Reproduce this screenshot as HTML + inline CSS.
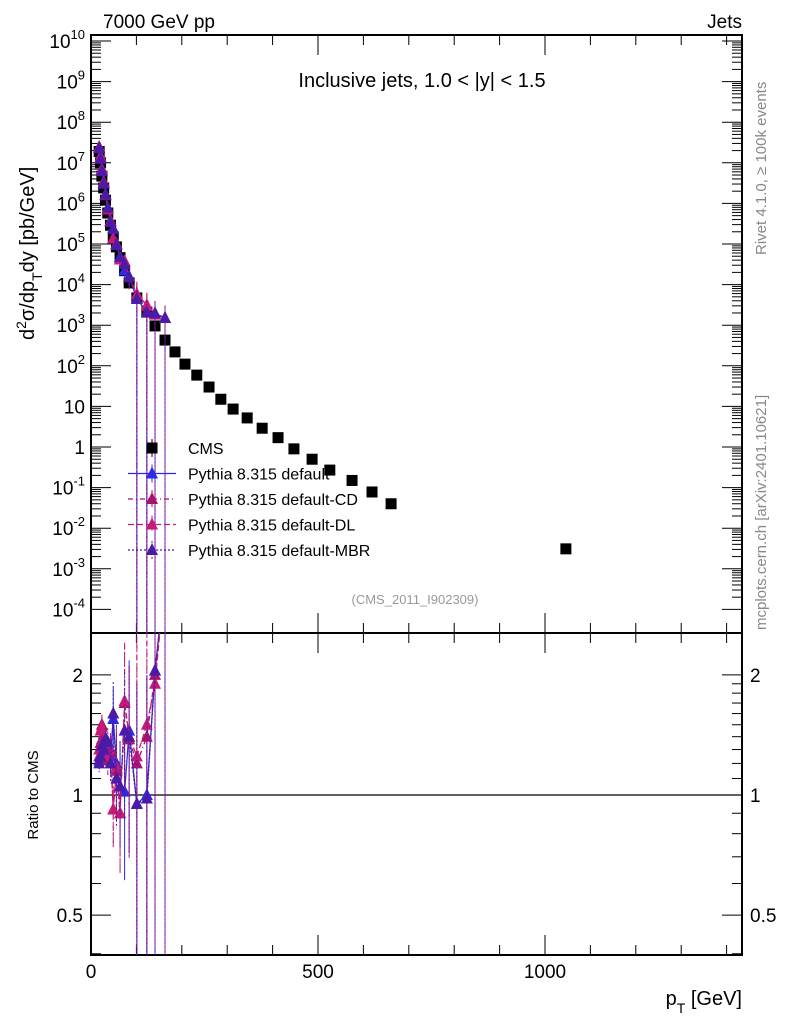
<!DOCTYPE html>
<html><head><meta charset="utf-8">
<style>
body{margin:0;background:#fff;}
svg text{font-family:"Liberation Sans",sans-serif;}
</style></head>
<body>
<svg id="c" width="786" height="1024" xmlns="http://www.w3.org/2000/svg">
<rect width="786" height="1024" fill="#fff"/>
<text x="103" y="28" font-size="19">7000 GeV pp</text>
<text x="742" y="28" font-size="19" text-anchor="end">Jets</text>
<text x="422" y="87" font-size="20" text-anchor="middle">Inclusive jets, 1.0 &lt; |y| &lt; 1.5</text>
<text x="415" y="604" font-size="13" fill="#999" text-anchor="middle">(CMS_2011_I902309)</text>
<text transform="translate(766,255) rotate(-90)" font-size="15" fill="#888">Rivet 4.1.0, ≥ 100k events</text>
<text transform="translate(766,630) rotate(-90)" font-size="15" fill="#888">mcplots.cern.ch [arXiv:2401.10621]</text>
<text transform="translate(34,340) rotate(-90)" font-size="20">d<tspan baseline-shift="super" font-size="14">2</tspan>σ/dp<tspan baseline-shift="sub" font-size="14">T</tspan>dy [pb/GeV]</text>
<text transform="translate(38,795) rotate(-90)" font-size="15" text-anchor="middle">Ratio to CMS</text>
<text x="742" y="1005" font-size="20" text-anchor="end">p<tspan baseline-shift="sub" font-size="14">T</tspan> [GeV]</text>
<g id="g"></g>
</svg>
<script>
const cmsPt=[18,21,24,28,32,37,43,49,56,64,74,84,101,123,141,163,185,207,233,260,286,313,344,377,412,447,487,526,575,619,661,1046];
const cmsVal=[1.9e7,1.0e7,4.7e6,2.4e6,1.2e6,5.8e5,2.9e5,1.5e5,8.5e4,4.6e4,2.2e4,1.1e4,4.7e3,2.1e3,9.6e2,4.3e2,2.2e2,1.1e2,59,30,15,8.6,5.2,2.9,1.7,0.9,0.5,0.27,0.15,0.078,0.040,0.0031];
const mcPt=[18,21,24,28,32,37,43,49,56,64,74,84,101,123,141,163];
const ratioDefault=[1.22,1.3,1.38,1.28,1.35,1.3,1.25,1.55,1.2,1.05,1.02,1.45,0.95,1.0,2.05,3.5];
const ratioCD=[1.25,1.35,1.5,1.42,1.32,1.22,1.28,0.92,1.15,0.9,1.7,1.38,1.2,1.4,2.0,3.5];
const ratioDL=[1.3,1.45,1.48,1.35,1.38,1.25,1.3,0.92,1.18,0.9,1.72,1.4,1.25,1.5,1.9,3.5];
const ratioMBR=[1.2,1.25,1.33,1.3,1.38,1.36,1.2,1.6,1.1,1.05,1.45,1.4,0.95,0.98,2.05,3.5];
const relErr=[0.05,0.05,0.06,0.06,0.07,0.08,0.1,0.2,0.25,0.3,0.4,0.5,1,1,1,1];
const yTicks=[-4,-3,-2,-1,0,1,2,3,4,5,6,7,8,9,10];
const rTicks=[0.5,1,2];
const xTicks=[0,500,1000];

const NS="http://www.w3.org/2000/svg",G=document.getElementById('g');
const L=91,R=742,T=35,B=633,RB=955;
const X=v=>L+v*0.454;
const Y=v=>447-Math.log10(v)*40.6;
const YR=v=>795-Math.log10(v)*399;
function el(t,a,p){const e=document.createElementNS(NS,t);for(const k in a)e.setAttribute(k,a[k]);(p||G).appendChild(e);return e;}
const defs=el('defs',{});
const c1=el('clipPath',{id:'cm'},defs);el('rect',{x:L,y:T,width:R-L,height:B-T},c1);
const c2=el('clipPath',{id:'cr'},defs);el('rect',{x:L,y:B,width:R-L,height:RB-B},c2);
let f=el('rect',{x:L,y:T,width:R-L,height:B-T,fill:'none',stroke:'#000','stroke-width':2});


f=el('rect',{x:L,y:B,width:R-L,height:RB-B,fill:'none',stroke:'#000','stroke-width':2});


yTicks.forEach(d=>{
  for(let m=1;m<10;m++){const v=Math.pow(10,d)*m;const y=Y(v);if(y<T||y>B)continue;const len=m==1?20:10;
    el('line',{x1:L,x2:L+len,y1:y,y2:y,stroke:'#000'});el('line',{x1:R,x2:R-len,y1:y,y2:y,stroke:'#000'});}
  const y=Y(Math.pow(10,d));if(y<T-2)return;
  const t=el('text',{x:L-6,y:y+7,'font-size':19,'text-anchor':'end'});
  
  
  if(d==0)t.textContent='1';else if(d==1)t.textContent='10';else{t.textContent='10';const s=el('tspan',{dy:-9,'font-size':13},t);s.textContent=d;}
});
[0.4,0.5,0.6,0.7,0.8,0.9,1,1.1,1.2,1.3,1.4,1.5,1.6,1.7,1.8,1.9,2].forEach(v=>{const y=YR(v);const len=rTicks.includes(v)?20:10;
  el('line',{x1:L,x2:L+len,y1:y,y2:y,stroke:'#000'});el('line',{x1:R,x2:R-len,y1:y,y2:y,stroke:'#000'});});
rTicks.forEach(v=>{const y=YR(v);
  let t=el('text',{x:L-8,y:y+7,'font-size':19,'text-anchor':'end'});t.textContent=v;
  
  
  t=el('text',{x:R+8,y:y+7,'font-size':19});t.textContent=v;
  
  });
el('line',{x1:L,x2:R,y1:YR(1),y2:YR(1),stroke:'#000','stroke-width':1.3});
for(let v=0;v<=1400;v+=100){const x=X(v);const len=v%500==0?20:10;
  [[T,1],[B,-1],[B,1],[RB,-1]].forEach(([y0,s])=>el('line',{x1:x,x2:x,y1:y0,y2:y0+s*len,stroke:'#000'}));}
xTicks.forEach(v=>{const t=el('text',{x:X(v),y:978,'font-size':19,'text-anchor':'middle'});t.textContent=v;
  
  });
cmsPt.forEach((p,i)=>{const r=el('rect',{x:X(p)-5.5,y:Y(cmsVal[i])-5.5,width:11,height:11,fill:'#000'});
  
  });
function tri(x,y,c,p){return el('polygon',{points:`${x},${y-7} ${x-6},${y+5} ${x+6},${y+5}`,fill:c},p);}
const series=[['default',ratioDefault,'#2b2be6','none'],['CD',ratioCD,'#a8126a','5,3,1,3'],['DL',ratioDL,'#c71a78','6,3'],['MBR',ratioMBR,'#4a1aa8','2,2']];
series.forEach(([nm,rat,col,dash])=>{
  const gm=el('g',{'clip-path':'url(#cm)'});
  
  
  const gr=el('g',{'clip-path':'url(#cr)'});
  
  
  let pm='',pr='';
  mcPt.forEach((p,i)=>{const v=cmsVal[i]*rat[i];const x=X(p);
    pm+=(i?'L':'M')+x+','+Y(v);pr+=(i?'L':'M')+x+','+YR(rat[i]);
    const e=relErr[i];
    const lo=e>=1?B:Math.min(Y(v*(1-e)),B);
    const lor=e>=1?RB:Math.min(YR(rat[i]*(1-e)),RB);
    el('line',{x1:x,x2:x,y1:Y(v*(1+e)),y2:lo,stroke:col,'stroke-dasharray':dash},gm);
    el('line',{x1:x,x2:x,y1:YR(rat[i]*(1+e)),y2:lor,stroke:col,'stroke-dasharray':dash},gr);
    tri(x,Y(v),col,gm);tri(x,YR(rat[i]),col,gr);});
  el('path',{d:pm,fill:'none',stroke:col,'stroke-width':1.3,'stroke-dasharray':dash},gm);
  el('path',{d:pr,fill:'none',stroke:col,'stroke-width':1.3,'stroke-dasharray':dash},gr);
});
const leg=[['CMS','#000',null,'none'],['Pythia 8.315 default','#2b2be6',1,'none'],['Pythia 8.315 default-CD','#a8126a',1,'5,3,1,3'],['Pythia 8.315 default-DL','#c71a78',1,'6,3'],['Pythia 8.315 default-MBR','#4a1aa8',1,'2,2']];
leg.forEach(([lab,col,isMC,dash],i)=>{const y=448+i*25.5;const g=el('g',{});
  
  
  if(isMC){el('line',{x1:128,x2:176,y1:y,y2:y,stroke:col,'stroke-width':1.3,'stroke-dasharray':dash},g);
    el('line',{x1:152,x2:152,y1:y-9,y2:y+9,stroke:col,'stroke-dasharray':dash},g);tri(152,y,col,g);}
  else{el('line',{x1:152,x2:152,y1:y-9,y2:y+9,stroke:'#000'},g);el('rect',{x:146.5,y:y-5.5,width:11,height:11,fill:'#000'},g);}
  const t=el('text',{x:188,y:y+6,'font-size':16},g);t.textContent=lab;});
</script>
</body></html>
